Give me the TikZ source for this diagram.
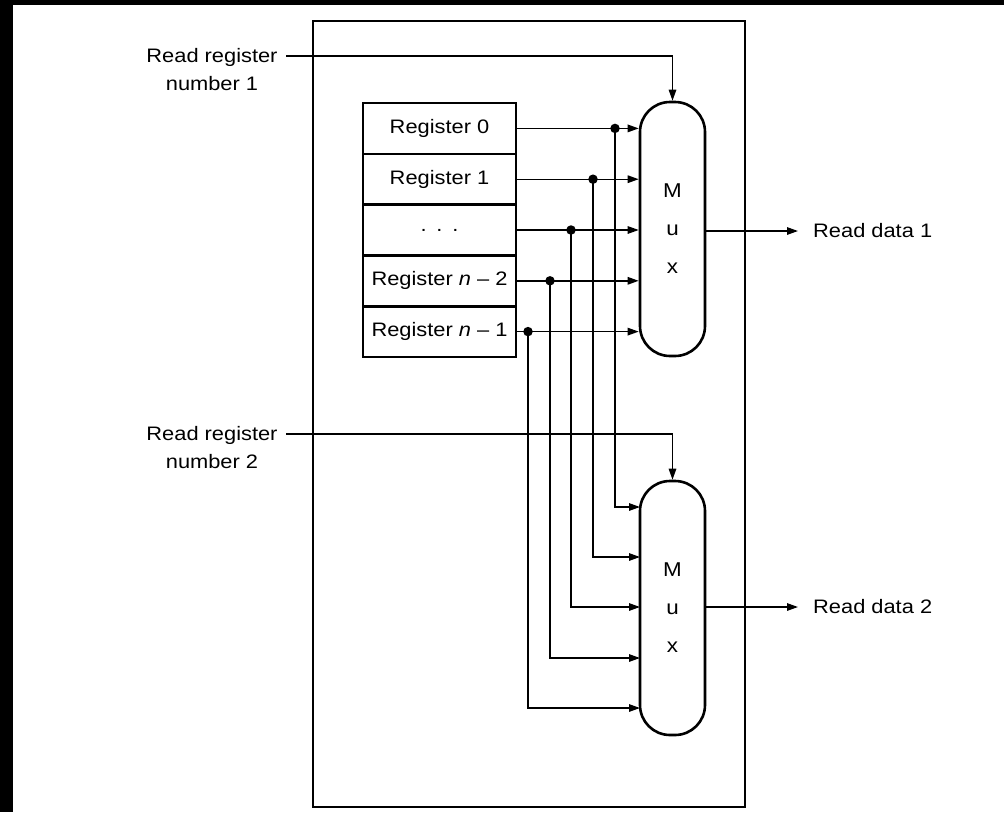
\documentclass[tikz,border=0pt]{standalone}
\usepackage{fontspec}
\setmainfont[FakeStretch=1.12]{Liberation Sans}
\usetikzlibrary{arrows.meta,calc}
\begin{document}
\begin{tikzpicture}[x=1pt,y=-1pt,
  thin line/.style={line width=1.4pt},
  thick line/.style={line width=2.6pt},
  arr/.style={thin line,-{Triangle[length=11pt,width=7.5pt]}},
  regbox/.style={draw,thick line,minimum width=153pt,minimum height=50.8pt,inner sep=0pt,font=\fontsize{19.5}{22}\selectfont},
  muxbox/.style={draw,thick line,rounded corners=30pt,minimum width=65pt,minimum height=254pt,inner sep=0pt,font=\fontsize{20}{22}\selectfont,align=center},
  lbl/.style={font=\fontsize{19.5}{28}\selectfont,inner sep=0pt,align=center},
  dot/.style={circle,fill=black,inner sep=0pt,minimum size=9.5pt}]
\useasboundingbox (0,0) rectangle (1004,812);
\fill[white] (0,0) rectangle (1004,812);
\fill[black] (0,0) rectangle (1004,5);
\fill[black] (0,0) rectangle (13,812);
% outer box
\draw[thick line] (313,21) rectangle (745,807);
% registers
\node[regbox] (r0) at (439.5,128.4) {Register 0};
\node[regbox] (r1) at (439.5,179.2) {Register 1};
\node[regbox] (r2) at (439.5,230.0) {.\hspace{0.5em}.\hspace{0.5em}.};
\node[regbox] (r3) at (439.5,280.8) {Register \textit{n} – 2};
\node[regbox] (r4) at (439.5,331.6) {Register \textit{n} – 1};
% muxes
\node[muxbox] (m1) at (672.5,229) {M\\[16pt]u\\[16pt]x};
\node[muxbox] (m2) at (672.5,608) {M\\[16pt]u\\[16pt]x};
% labels
\node[lbl] (rr1) at (212,70) {Read register\\number 1};
\node[lbl] (rr2) at (212,448) {Read register\\number 2};
\node[lbl,anchor=west] (rd1) at (813,231) {Read data 1};
\node[lbl,anchor=west] (rd2) at (813,607) {Read data 2};
\coordinate (c1) at (286,56);
\coordinate (c2) at (286,434);
\draw[arr] (c1) -| (m1.north);
\draw[arr] (c2) -| (m2.north);
\draw[arr,shorten >=15pt] (m1.east |- rd1.west) -- (rd1.west);
\draw[arr,shorten >=15pt] (m2.east |- rd2.west) -- (rd2.west);
% taps
\node[dot] (d0) at (615,128.4) {};
\node[dot] (d1) at (593,179.2) {};
\node[dot] (d2) at (571,230.0) {};
\node[dot] (d3) at (550,280.8) {};
\node[dot] (d4) at (528,331.6) {};
\coordinate (i0) at (640,507);
\coordinate (i1) at (640,557);
\coordinate (i2) at (640,607);
\coordinate (i3) at (640,658);
\coordinate (i4) at (640,708);
\foreach \k in {0,...,4}{
  \draw[arr] (r\k.east) -- (m1.west |- r\k.east);
  \draw[arr] (d\k.center) |- (i\k);
}
\end{tikzpicture}
\end{document}
